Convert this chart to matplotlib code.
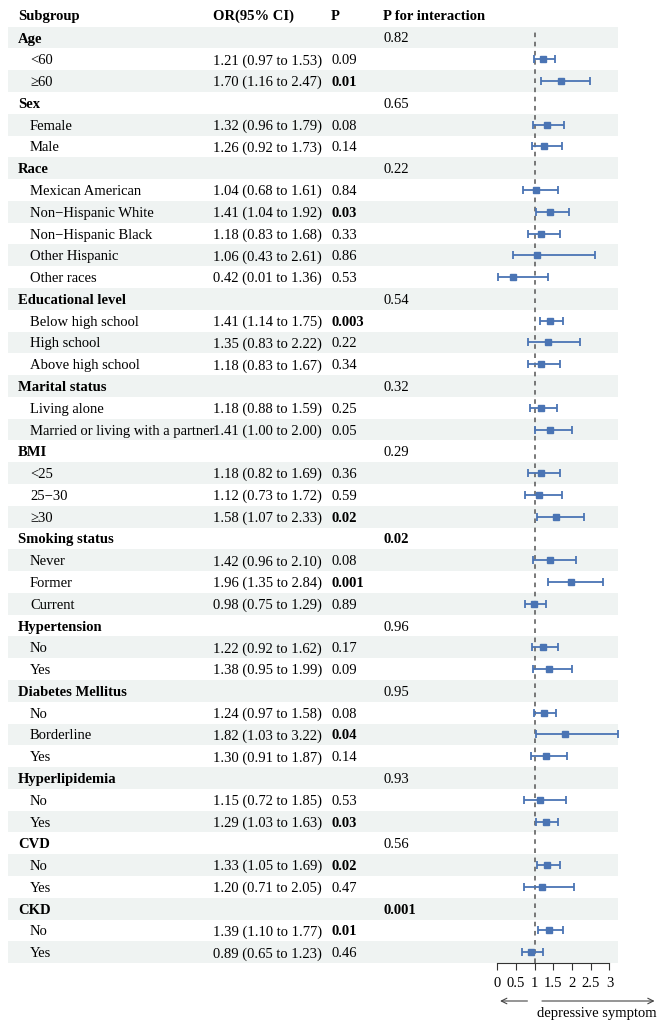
import numpy as np
import matplotlib
matplotlib.use("Agg")
import matplotlib.pyplot as plt
from matplotlib.transforms import blended_transform_factory

plt.rcParams["font.family"] = ["Liberation Serif", "DejaVu Serif"]

# rows: (label, is_group, OR, lower, upper, p, p_interaction)
labels = ["Age", "<60", "≥60",
          "Sex", "Female", "Male",
          "Race", "Mexican American", "Non−Hispanic White", "Non−Hispanic Black",
          "Other Hispanic", "Other races",
          "Educational level", "Below high school", "High school", "Above high school",
          "Marital status", "Living alone", "Married or living with a partner",
          "BMI", "<25", "25−30", "≥30",
          "Smoking status", "Never", "Former", "Current",
          "Hypertension", "No", "Yes",
          "Diabetes Mellitus", "No", "Borderline", "Yes",
          "Hyperlipidemia", "No", "Yes",
          "CVD", "No", "Yes",
          "CKD", "No", "Yes"]
is_group = [1, 0, 0, 1, 0, 0, 1, 0, 0, 0, 0, 0, 1, 0, 0, 0, 1, 0, 0,
            1, 0, 0, 0, 1, 0, 0, 0, 1, 0, 0, 1, 0, 0, 0, 1, 0, 0, 1, 0, 0, 1, 0, 0]
odds = [None, 1.21, 1.70, None, 1.32, 1.26, None, 1.04, 1.41, 1.18, 1.06, 0.42,
        None, 1.41, 1.35, 1.18, None, 1.18, 1.41, None, 1.18, 1.12, 1.58,
        None, 1.42, 1.96, 0.98, None, 1.22, 1.38, None, 1.24, 1.82, 1.30,
        None, 1.15, 1.29, None, 1.33, 1.20, None, 1.39, 0.89]
lower = [None, 0.97, 1.16, None, 0.96, 0.92, None, 0.68, 1.04, 0.83, 0.43, 0.01,
         None, 1.14, 0.83, 0.83, None, 0.88, 1.00, None, 0.82, 0.73, 1.07,
         None, 0.96, 1.35, 0.75, None, 0.92, 0.95, None, 0.97, 1.03, 0.91,
         None, 0.72, 1.03, None, 1.05, 0.71, None, 1.10, 0.65]
upper = [None, 1.53, 2.47, None, 1.79, 1.73, None, 1.61, 1.92, 1.68, 2.61, 1.36,
         None, 1.75, 2.22, 1.67, None, 1.59, 2.00, None, 1.69, 1.72, 2.33,
         None, 2.10, 2.84, 1.29, None, 1.62, 1.99, None, 1.58, 3.22, 1.87,
         None, 1.85, 1.63, None, 1.69, 2.05, None, 1.77, 1.23]
p_vals = ["", "0.09", "0.01", "", "0.08", "0.14", "", "0.84", "0.03", "0.33", "0.86", "0.53",
          "", "0.003", "0.22", "0.34", "", "0.25", "0.05", "", "0.36", "0.59", "0.02",
          "", "0.08", "0.001", "0.89", "", "0.17", "0.09", "", "0.08", "0.04", "0.14",
          "", "0.53", "0.03", "", "0.02", "0.47", "", "0.01", "0.46"]
p_inter = ["0.82", "", "", "0.65", "", "", "0.22", "", "", "", "", "",
           "0.54", "", "", "", "0.32", "", "", "0.29", "", "", "",
           "0.02", "", "", "", "0.96", "", "", "0.95", "", "", "",
           "0.93", "", "", "0.56", "", "", "0.001", "", ""]
x_ticks = [0, 0.5, 1, 1.5, 2, 2.5, 3]
x_tick_labels = ["0", "0.5", "1", "1.5", "2", "2.5", "3"]

W, H = 663, 1024
fig = plt.figure(figsize=(W / 100, H / 100), dpi=100)
pix = fig.add_axes([0, 0, 1, 1])
pix.set_xlim(0, W)
pix.set_ylim(H, 0)
pix.axis("off")

fs = 10.5
row0, pitch = 37.5, 21.78
n = len(labels)
rows_y = [row0 + i * pitch for i in range(n)]
band_color = "#eff3f2"
blue = "#4a74b4"

# forest plot axes
fx0, fx1 = 497.3, 617.7
ftop = row0 - pitch / 2
fbot = row0 + (n - 1) * pitch + pitch / 2
fax = fig.add_axes([fx0 / W, 1 - fbot / H, (fx1 - fx0) / W, (fbot - ftop) / H])
fax.set_xlim(0, 3.22)
fax.set_ylim(n - 0.5, -0.5)
fax.patch.set_alpha(0)

# shaded rows
for i, y in enumerate(rows_y):
    if i % 2 == 0:
        pix.axhspan(y - pitch / 2, y + pitch / 2, xmin=8 / W, xmax=fx1 / W,
                    color=band_color, lw=0, zorder=0)

# headers
va = "center_baseline"
hy = 15
pix.text(18, hy, "Subgroup", fontsize=fs, fontweight="bold", va=va)
pix.text(213, hy, "OR(95% CI)", fontsize=fs, fontweight="bold", va=va)
pix.text(331, hy, "P", fontsize=fs, fontweight="bold", va=va)
pix.text(383, hy, "P for interaction", fontsize=fs, fontweight="bold", va=va)

for i, y in enumerate(rows_y):
    if is_group[i]:
        pix.text(18, y, labels[i], fontsize=fs, fontweight="bold", va=va)
    else:
        pix.text(30, y, labels[i], fontsize=fs, va=va)
        pix.text(213, y, f"{odds[i]:.2f} ({lower[i]:.2f} to {upper[i]:.2f})",
                 fontsize=fs, va=va)
        bold = float(p_vals[i]) < 0.05
        pix.text(331, y, p_vals[i], fontsize=fs, va=va,
                 fontweight="bold" if bold else "normal")
    if p_inter[i]:
        bold = float(p_inter[i]) < 0.05
        pix.text(383, y, p_inter[i], fontsize=fs, va=va,
                 fontweight="bold" if bold else "normal")

# error bars
idx = [i for i in range(n) if odds[i] is not None]
est = np.array([odds[i] for i in idx])
lo = np.array([lower[i] for i in idx])
hi = np.array([upper[i] for i in idx])
fax.axvline(1, color="#555555", lw=1.1, ls=(0, (3, 3)), ymax=1 - 0.25 / n, zorder=1)
fax.errorbar(est, idx, xerr=[est - lo, hi - est], fmt="s", color=blue,
             ms=4.8, elinewidth=1.3, capsize=2.8, capthick=1.3, zorder=3)

for s in ["top", "right", "left"]:
    fax.spines[s].set_visible(False)
fax.spines["bottom"].set_bounds(0, 3)
fax.spines["bottom"].set_color("#333333")
fax.spines["bottom"].set_linewidth(0.8)
fax.set_yticks([])
fax.set_xticks(x_ticks)
fax.set_xticklabels(x_tick_labels, fontsize=fs)
fax.tick_params(axis="x", direction="out", length=5, width=0.8, color="#333333", pad=5)

# arrows and label
bt = blended_transform_factory(fax.transData, pix.transData)
fax.annotate("", xy=(0, 1001), xytext=(0.88, 1001), xycoords=bt, textcoords=bt,
             arrowprops=dict(arrowstyle="->", color="#444444", lw=0.8),
             annotation_clip=False)
fax.annotate("", xy=(4.28, 1001), xytext=(1.12, 1001), xycoords=bt, textcoords=bt,
             arrowprops=dict(arrowstyle="->", color="#444444", lw=0.8),
             annotation_clip=False)
fax.text(2.66, 1014, "depressive symptom", transform=bt, ha="center", va="center",
         fontsize=fs, clip_on=False)

fig.savefig("out.png", dpi=100)
